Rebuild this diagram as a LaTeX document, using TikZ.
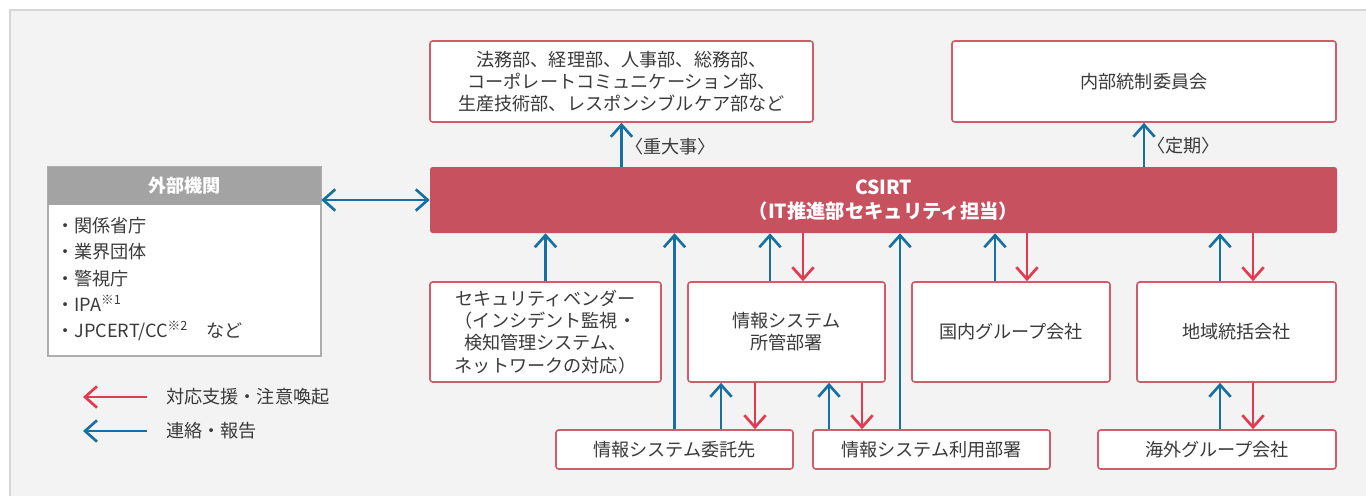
\documentclass[tikz,border=0pt]{standalone}
\usepackage{fontspec}
\setmainfont{Noto Sans CJK JP}
\newfontfamily\cjkprop{Noto Sans CJK JP}[RawFeature=+palt]
\usepackage{xcolor}
\usetikzlibrary{
  arrows.meta,
  positioning,
  calc
}
\definecolor{csRed}{HTML}{C8515F}
\definecolor{csEdge}{HTML}{D25C6A}
\definecolor{csAlert}{HTML}{E43A4F}
\definecolor{csLink}{HTML}{1870A2}
\definecolor{csHead}{HTML}{A3A3A3}
\definecolor{csFrame}{HTML}{ADADAD}
\definecolor{csPanel}{HTML}{F3F3F3}
\definecolor{csRule}{HTML}{D6D6D6}
\definecolor{csText}{HTML}{3A3A3A}
\tikzset{
  csfont/.style={font=\fontsize{13.6}{16.6}\selectfont},
  orgbox/.style={
    draw=csEdge, line width=1.2pt, fill=white, rounded corners=2pt,
    inner sep=0pt, align=center, text=csText, csfont
  },
  csirtbox/.style={
    fill=csRed, rounded corners=2pt, inner sep=0pt, align=center,
    text=white, font=\fontsize{14.5}{18.5}\selectfont\bfseries
  },
  extbody/.style={draw=csFrame, line width=1.2pt, fill=white, inner sep=0pt},
  exthead/.style={fill=csHead, inner sep=0pt, text=white, font=\fontsize{13.6}{16}\selectfont\bfseries},
  extlist/.style={
    inner sep=0pt, align=left, anchor=west, text=csText,
    font=\fontsize{13.6}{19.8}\selectfont
  },
  report/.style={->, line width=2pt, csLink},
  alert/.style={->, line width=2pt, csAlert},
  tag/.style={inner sep=0pt, anchor=west, text=csText, font=\cjkprop\fontsize{13.6}{16}\selectfont},
  legendtxt/.style={inner sep=0pt, anchor=west, text=csText, csfont}
}

\begin{document}
\begin{tikzpicture}[x=0.75pt, y=-0.75pt, >={Straight Barb[length=9pt,width=16pt]}]
  \useasboundingbox (0,0) rectangle (1366,496);
  \fill[csPanel] (10,10) rectangle (1366,496);
  \draw[csRule, line width=1.2pt] (10,496) -- (10,10) -- (1366,10);

  % centre and upper row
  \node[csirtbox, minimum width=680.25pt, minimum height=49.5pt] (csirt) at (883.5,200)
    {CSIRT\\（IT推進部セキュリティ担当）};
  \node[orgbox, minimum width=287.25pt, minimum height=60.75pt] (honsha) at (621.5,81.5)
    {法務部、経理部、人事部、総務部、\\コーポレートコミュニケーション部、\\生産技術部、レスポンシブルケア部など};
  \node[orgbox, minimum width=288pt, minimum height=60.75pt] (naibu) at (1144,81.5) {内部統制委員会};

  % external bodies
  \node[extbody, minimum width=204.75pt, minimum height=141.75pt] (ext) at (184.5,261.5) {};
  \node[exthead, minimum width=204.75pt, minimum height=28.5pt] (exthead) at (184.5,186) {外部機関};
  \node[extlist] (extitems) at (56,279)
    {・関係省庁\\・業界団体\\・警視庁\\・IPA\textsuperscript{※1}\\・JPCERT/CC\textsuperscript{※2}　など};

  % lower rows
  \node[orgbox, minimum width=173.25pt, minimum height=75pt] (vendor) at (545.5,332)
    {セキュリティベンダー\\（インシデント監視・\\検知管理システム、\\ネットワークの対応）};
  \node[orgbox, minimum width=147.75pt, minimum height=75pt] (shokan) at (786.5,332) {情報システム\\所管部署};
  \node[orgbox, minimum width=148.5pt, minimum height=75pt] (kokunai) at (1011,332) {国内グループ会社};
  \node[orgbox, minimum width=149.25pt, minimum height=75pt] (chiiki) at (1236.5,332) {地域統括会社};
  \node[orgbox, minimum width=177.75pt, minimum height=29.25pt] (itaku) at (674.5,449.5) {情報システム委託先};
  \node[orgbox, minimum width=177.75pt, minimum height=29.25pt] (riyou) at (931.5,449.5) {情報システム利用部署};
  \node[orgbox, minimum width=178.5pt, minimum height=29.25pt] (kaigai) at (1217,449.5) {海外グループ会社};

  % connectors
  \draw[report, <->] (exthead.east |- csirt.west) -- (csirt.west);
  \draw[report] (honsha.south |- csirt.north) -- (honsha.south);
  \draw[report] (naibu.south |- csirt.north) -- (naibu.south);
  \node[tag] (juudai) at (634,147) {〈重大事〉};
  \node[tag] (teiki) at (1156,146) {〈定期〉};
  \draw[report] (vendor.north) -- (vendor.north |- csirt.south);
  \draw[report] (itaku.north) -- (itaku.north |- csirt.south);
  \draw[report] (riyou.north -| 900,0) -- (900,0 |- csirt.south);
  \foreach \up/\dn/\src/\dst in {770/803/shokan/csirt, 995/1027/kokunai/csirt, 1220/1253/chiiki/csirt,
      721/755/itaku/shokan, 829/862/riyou/shokan, 1220/1253/kaigai/chiiki} {
    \draw[report] (\src.north -| \up,0) -- (\up,0 |- \dst.south);
    \draw[alert] (\dn,0 |- \dst.south) -- (\src.north -| \dn,0);
  }

  % legend
  \node[legendtxt] (lgalert) at (166,397) {対応支援・注意喚起};
  \node[legendtxt] (lgreport) at (166,431) {連絡・報告};
  \coordinate (lgA) at (147,397);
  \coordinate (lgR) at (147,431);
  \draw[alert] (lgA) -- ++(-64,0);
  \draw[report] (lgR) -- ++(-64,0);
\end{tikzpicture}
\end{document}
